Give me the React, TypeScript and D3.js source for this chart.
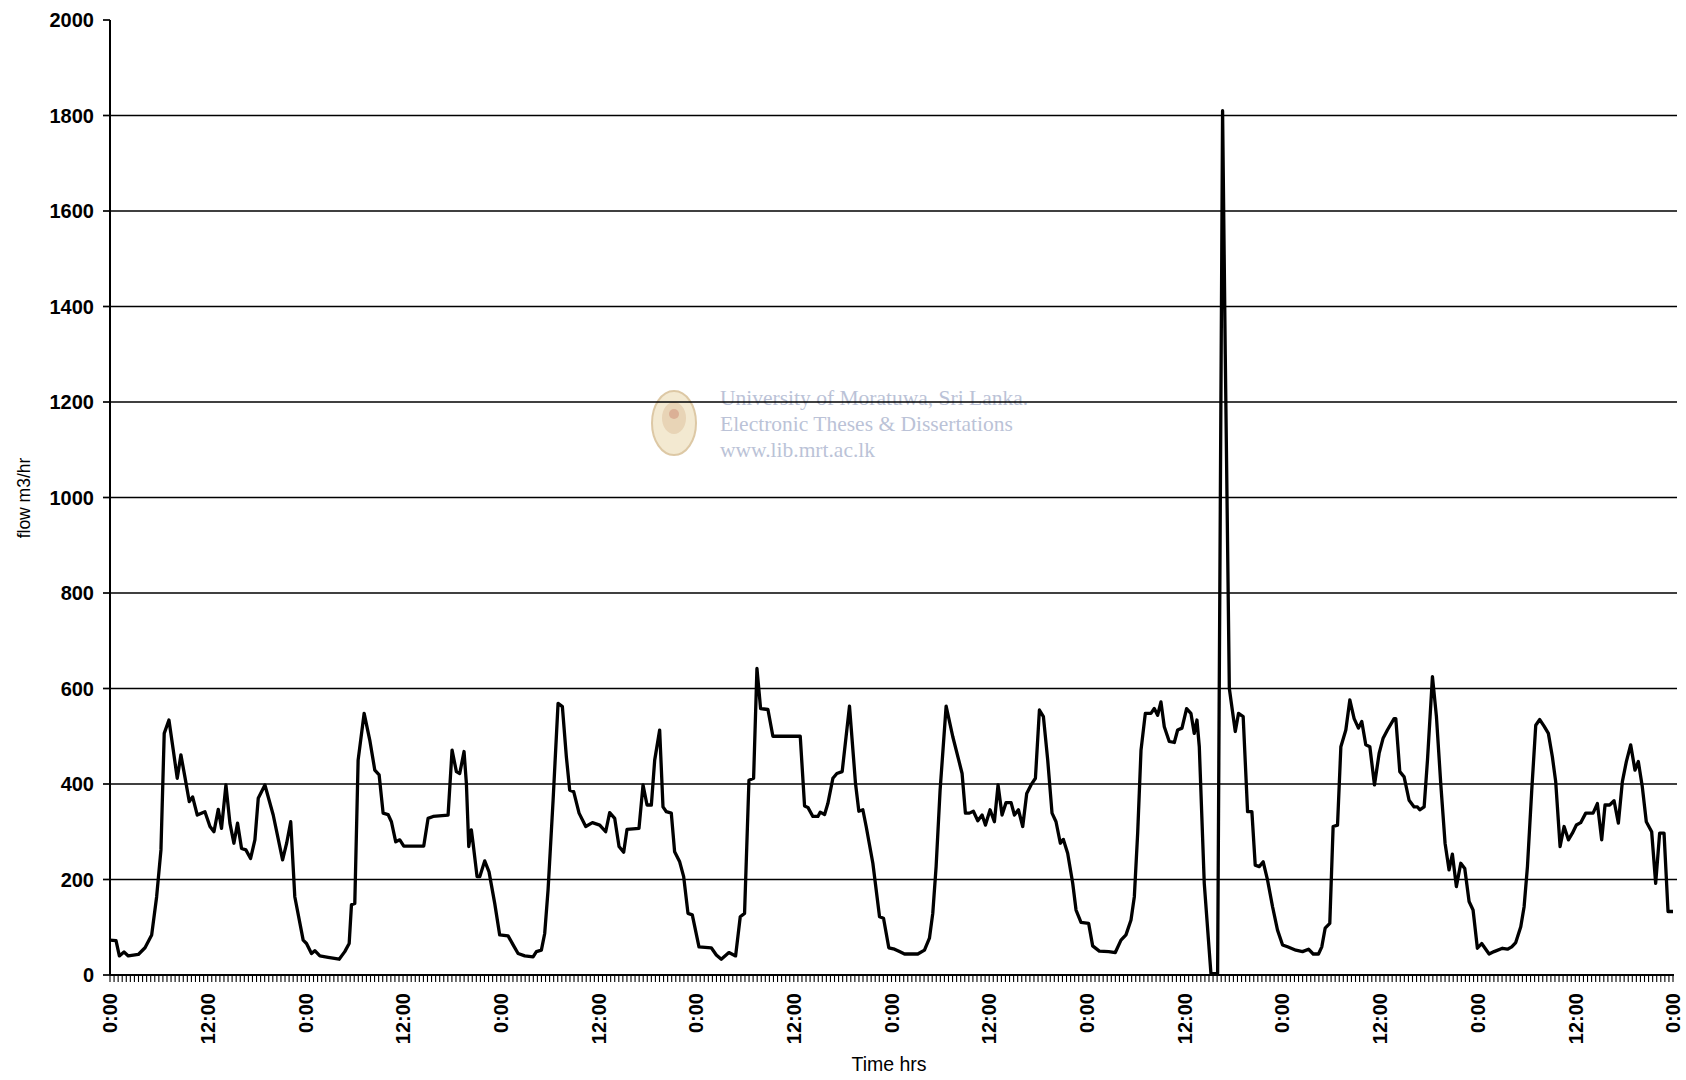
import React from "react";
import * as d3 from "d3";

// Time in hours since the first 0:00, and flow (m3/hr)
const HOURS = [
  0, 0.74, 1.15, 1.72, 2.25, 3.48, 4.3, 5.12, 5.73, 6.26, 6.66, 7.24, 7.77, 8.26, 8.71, 9.2, 9.74, 10.15, 10.72, 11.66,
  12.28, 12.77, 13.3, 13.7, 14.24, 14.73, 15.22, 15.67, 16.16, 16.69, 17.27, 17.8, 18.21, 19.03, 20.05, 21.2, 21.7, 22.2, 22.7,
  23.73, 24.14, 24.75, 25.16, 25.78, 26.8, 28.15, 28.84, 29.38, 29.66, 30.07, 30.48, 31.22, 31.91, 32.53, 33.06, 33.55, 34.16,
  34.57, 35.1, 35.6, 36.09, 38.54, 39.07, 39.69, 41.53, 42.02, 42.55, 42.96, 43.49, 43.78, 44.07, 44.39, 44.6, 45.09, 45.42,
  46.03, 46.56, 47.26, 47.87,
  48.9, 49.52, 50.13, 50.95, 51.97, 52.38, 52.99, 53.4, 53.81, 54.43, 55.04, 55.57, 56.06, 56.47, 56.96, 57.62, 58.44, 59.26,
  60.16, 60.89, 61.38, 62.0, 62.53, 63.1, 63.51, 64.98, 65.48, 65.97, 66.5, 66.91, 67.52, 67.93, 68.34, 68.95, 69.36, 69.98,
  70.47, 71.0, 71.53, 72.35,
  73.86, 74.48, 75.09, 76.03, 76.85, 77.42, 77.95, 78.49, 79.06, 79.47, 79.92, 80.82, 81.43, 84.79, 85.32, 85.73, 86.34, 86.96,
  87.24, 87.78, 88.18, 88.8, 89.29, 89.94, 90.84, 91.58, 91.99, 92.48, 92.89, 93.71, 94.53, 95.02, 95.67, 96.37, 96.98, 97.6,
  99.23, 100.05, 100.66, 101.07, 101.48, 101.97, 102.71, 103.53, 104.26, 104.67, 105.08, 105.57, 106.06, 106.6, 107.13, 107.54,
  108.11, 108.64, 109.09, 109.58, 110.07, 110.69, 111.1, 111.59, 112.12, 112.61, 113.14, 113.68, 114.17, 114.66, 115.19, 115.72,
  116.21, 116.74, 117.11, 117.64, 118.26, 118.67, 119.28, 120.22, 120.71, 121.53, 122.68,
  123.49, 124.19, 124.8, 125.42, 125.83, 126.24, 126.65, 127.18, 127.87, 128.28, 128.69, 129.1, 129.51, 130.12, 130.74, 131.15,
  131.68, 132.25, 132.78, 133.19, 133.52, 133.81, 134.42, 135.24, 136.06, 136.67, 137.0, 137.5, 138.23, 138.63, 139.2, 139.74,
  140.27, 140.68, 141.17, 141.66, 142.19, 142.81, 143.42, 144.04, 144.65, 145.67, 146.49,
  147.23, 147.8, 148.45, 148.86, 149.27, 149.84, 150.25, 150.79, 151.2, 151.81, 152.3, 152.83, 153.36, 153.77, 154.26, 154.76,
  155.33, 155.9, 156.39, 156.92, 157.74, 157.95, 158.44, 158.97, 159.58, 160.2, 160.61, 160.89, 161.43, 161.84, 162.45, 162.94,
  163.47, 164.0, 164.49, 164.9, 165.39, 165.93, 166.42, 166.95, 167.44, 167.97, 168.5,
  169.41, 170.02, 171.05, 171.66, 172.19, 172.68, 173.3, 173.71, 174.12, 174.65, 175.14, 175.63, 176.16, 176.69, 177.18, 177.59,
  178.13, 178.62, 179.15, 179.64, 180.13, 180.66, 181.28, 182.18, 182.71, 183.24, 183.65, 184.22, 184.76, 185.29, 185.78, 186.27,
  186.8, 187.33, 187.74, 188.23, 188.72, 189.38, 189.87, 190.36, 190.9, 191.39, 192,
];

const FLOW = [
  73, 72, 40, 48, 40, 43, 57, 84, 164, 262, 506, 534, 471, 412, 461, 415, 363, 373, 335, 342,
  311, 300, 347, 307, 398, 318, 276, 318, 265, 262, 244, 283, 370, 398, 335, 241, 276, 321, 164,
  73, 66, 45, 51, 40, 37, 33, 49, 66, 147, 150, 450, 548, 492, 429, 419, 339, 336,
  321, 279, 283, 270, 270, 328, 332, 335, 471, 426, 422, 468, 401, 269, 304, 276, 206, 206,
  239, 216, 150, 84,
  82, 63, 45, 40, 38, 49, 52, 87, 178, 366, 569, 562, 457, 387, 384, 339, 311, 319,
  314, 300, 340, 328, 269, 257, 305, 307, 398, 356, 356, 450, 513, 352, 342, 339, 258, 237,
  206, 129, 126, 59,
  57, 42, 33, 47, 40, 122, 129, 408, 412, 642, 558, 556, 500, 500, 354, 351, 332, 332,
  341, 336, 359, 412, 422, 426, 563, 401, 343, 346, 311, 234, 122, 119, 57, 54, 49, 44,
  44, 52, 77, 129, 227, 387, 563, 499, 450, 422, 339, 339, 343, 323, 335, 314,
  346, 321, 398, 335, 361, 361, 335, 346, 311, 380, 398, 412, 555, 541, 450, 339,
  321, 276, 284, 255, 192, 136, 110, 108, 61, 50, 49,
  47, 73, 84, 115, 164, 297, 471, 548, 548, 558, 544, 572, 520, 489, 487, 513,
  517, 558, 548, 506, 534, 478, 192, 3, 3, 1810, 1300, 600, 510, 548, 541, 342,
  342, 230, 227, 237, 199, 143, 94, 63, 59, 52, 49,
  54, 44, 44, 59, 98, 108, 311, 314, 478, 513, 576, 537, 517, 531, 482, 478,
  398, 464, 496, 513, 537, 537, 426, 415, 366, 352, 352, 346, 352, 450, 625, 541,
  401, 276, 220, 253, 185, 234, 223, 154, 136, 56, 66,
  44, 49, 56, 54, 59, 68, 101, 143, 227, 387, 523, 535, 521, 506, 457, 405,
  269, 311, 283, 297, 314, 319, 339, 339, 359, 283, 356, 356, 365, 318, 405, 447,
  482, 429, 447, 394, 321, 300, 192, 297, 297, 133, 133,
];

const Y_TICKS = [0, 200, 400, 600, 800, 1000, 1200, 1400, 1600, 1800, 2000];
const X_LABEL_HOURS = [0, 12, 24, 36, 48, 60, 72, 84, 96, 108, 120, 132, 144, 156, 168, 180, 192];
const X_LABELS = ["0:00", "12:00", "0:00", "12:00", "0:00", "12:00", "0:00", "12:00", "0:00", "12:00", "0:00", "12:00", "0:00", "12:00", "0:00", "12:00", "0:00"];
const MINOR_STEP_HOURS = 0.5;
const WATERMARK = ["University of Moratuwa, Sri Lanka.", "Electronic Theses & Dissertations", "www.lib.mrt.ac.lk"];

const W = 1686;
const H = 1080;
const LEFT = 110;
const RIGHT = 1673;
const TOP = 20;
const BOTTOM = 975;

export default function App() {
  const x = d3.scaleLinear().domain([0, 192]).range([LEFT, RIGHT]);
  const y = d3.scaleLinear().domain([0, 2000]).range([BOTTOM, TOP]);
  const data = HOURS.map((h, i) => [h, FLOW[i]] as [number, number]);
  const line = d3
    .line<[number, number]>()
    .x((d) => x(d[0]))
    .y((d) => y(d[1]));
  const minor = d3.range(0, 192 + 1e-6, MINOR_STEP_HOURS);
  const font = "'Liberation Sans', Arial, sans-serif";

  return (
    <div style={{ position: "absolute", left: 0, top: 0, width: W, height: H, background: "#fff" }}>
      <svg width={W} height={H} style={{ display: "block" }}>
        <rect width={W} height={H} fill="#fff" />
        {/* watermark */}
        <g opacity={0.6}>
          <ellipse cx={674} cy={423} rx={22} ry={32} fill="#ecdcb4" stroke="#c7a56a" strokeWidth={2} />
          <ellipse cx={674} cy={418} rx={12} ry={16} fill="#d9b886" />
          <circle cx={674} cy={414} r={5} fill="#b5552e" opacity={0.6} />
          {WATERMARK.map((t, i) => (
            <text key={i} x={720} y={405 + i * 26} fontFamily="'Liberation Serif', serif" fontSize={21.5} fill="#8e9bbd">
              {t}
            </text>
          ))}
        </g>
        {/* gridlines */}
        {Y_TICKS.filter((v) => v > 0 && v < 2000).map((v) => (
          <line key={v} x1={LEFT} x2={1677} y1={y(v)} y2={y(v)} stroke="#000" strokeWidth={1.7} />
        ))}
        {/* y axis */}
        <line x1={LEFT} x2={LEFT} y1={TOP} y2={BOTTOM} stroke="#000" strokeWidth={2} />
        {Y_TICKS.map((v) => (
          <g key={v}>
            <line x1={103} x2={LEFT} y1={y(v)} y2={y(v)} stroke="#000" strokeWidth={1.7} />
            <text x={94} y={y(v)} dy="0.36em" textAnchor="end" fontFamily={font} fontWeight="bold" fontSize={20} fill="#000">
              {v}
            </text>
          </g>
        ))}
        {/* x axis */}
        <line x1={LEFT} x2={RIGHT + 1} y1={BOTTOM} y2={BOTTOM} stroke="#000" strokeWidth={2} />
        {minor.map((h, i) => (
          <line key={i} x1={x(h)} x2={x(h)} y1={BOTTOM} y2={BOTTOM + 7} stroke="#000" strokeWidth={1.1} />
        ))}
        {X_LABEL_HOURS.map((h, i) => (
          <text
            key={i}
            transform={`translate(${x(h)},993) rotate(-90)`}
            dy="0.36em"
            textAnchor="end"
            fontFamily={font}
            fontWeight="bold"
            fontSize={20}
            fill="#000"
          >
            {X_LABELS[i]}
          </text>
        ))}
        {/* axis titles */}
        <text x={889} y={1071} textAnchor="middle" fontFamily={font} fontSize={19.5} fill="#000">
          Time hrs
        </text>
        <text transform="translate(24,498) rotate(-90)" dy="0.36em" textAnchor="middle" fontFamily={font} fontSize={17.5} fill="#000">
          flow m3/hr
        </text>
        {/* data line */}
        <path d={line(data) || ""} fill="none" stroke="#000" strokeWidth={3.3} strokeLinejoin="round" />
      </svg>
    </div>
  );
}
